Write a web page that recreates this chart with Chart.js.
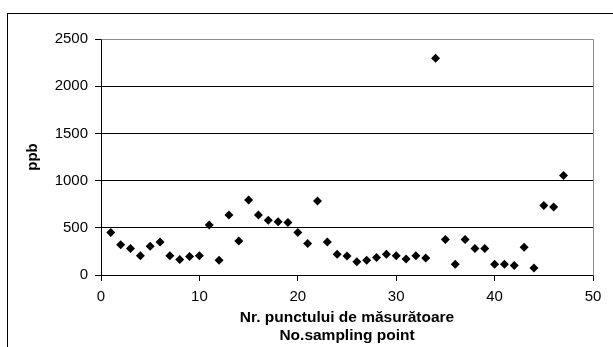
<!DOCTYPE html>
<html>
<head>
<meta charset="utf-8">
<script src="https://cdn.jsdelivr.net/npm/chart.js@4"></script>
<style>
  body { margin: 0; background: #fff; }
  #wrap { position: relative; width: 613px; height: 347px; overflow: hidden; }
  #frame { position: absolute; left: 7px; top: 13px; width: 700px; height: 400px;
           border-left: 1px solid #000; border-top: 1px solid #000; }
  #chart { position: absolute; left: 0; top: 0; }
</style>
</head>
<body>
<div id="wrap">
  <div id="frame"></div>
  <canvas id="chart" width="613" height="347"></canvas>
</div>
<script>
// sampling point number and measured value (ppb)
var pointNumbers = [1,2,3,4,5,6,7,8,9,10,11,12,13,14,15,16,17,18,19,20,21,22,23,24,
  25,26,27,28,29,30,31,32,33,34,35,36,37,38,39,40,41,42,43,44,45,46,47];
var ppbValues = [450,320,280,205,305,350,205,165,195,205,530,155,635,360,795,635,580,565,
  555,450,335,785,350,220,200,140,155,185,220,205,170,205,180,2295,375,115,375,280,280,
  115,115,100,295,75,735,720,1055];

var xTitle = ['Nr. punctului de măsurătoare', 'No.sampling point'];
var yTitle = 'ppb';

var fontFamily = "'Liberation Sans', Arial, sans-serif";

var points = [];
pointNumbers.forEach(function (n, i) {
    points.push({x: n, y: ppbValues[i]});
});

// gray top/right edge of the plot area
var plotEdge = {
    id: 'plotEdge',
    beforeDatasetsDraw: function (chart) {
        var a = chart.chartArea;
        var c = chart.ctx;
        c.save();
        c.strokeStyle = '#8c8c8c';
        c.lineWidth = 1;
        c.beginPath();
        c.moveTo(Math.round(a.left) + 0.5, Math.round(a.top) + 0.5);
        c.lineTo(Math.round(a.right) + 0.5, Math.round(a.top) + 0.5);
        c.lineTo(Math.round(a.right) + 0.5, Math.round(a.bottom) + 0.5);
        c.stroke();
        c.restore();
    }
};

function plainTick(value) {
    return String(value);
}

var ctx = document.getElementById('chart').getContext('2d');
var chart = new Chart(ctx, {
    type: 'scatter',
    data: {
        datasets: [{
            data: points,
            pointStyle: 'rectRot',
            pointRadius: 4.5,
            pointBackgroundColor: '#000',
            pointBorderColor: '#000',
            pointBorderWidth: 0
        }]
    },
    options: {
        responsive: false,
        animation: false,
        events: [],
        layout: { padding: { left: 0, top: 39, right: 20, bottom: 0 } },
        plugins: { legend: { display: false }, tooltip: { enabled: false } },
        scales: {
            x: {
                type: 'linear',
                min: 0, max: 50,
                afterFit: function (s) { s.height = 72; },
                ticks: { stepSize: 10, color: '#000', padding: 7, callback: plainTick,
                         font: { family: fontFamily, size: 15 } },
                grid: { drawOnChartArea: false, drawTicks: true, tickLength: 6, color: '#000' },
                border: { color: '#000', width: 1 },
                title: { display: true, text: xTitle, color: '#000',
                         font: { family: fontFamily, size: 15.5, weight: 'bold', lineHeight: 1.16 },
                         padding: { top: 0, bottom: 2 } }
            },
            y: {
                min: 0, max: 2500,
                afterFit: function (s) { s.width = 101; },
                ticks: { stepSize: 500, color: '#000', padding: 7, callback: plainTick,
                         font: { family: fontFamily, size: 15 } },
                grid: { color: '#000', tickLength: 6 },
                border: { color: '#000', width: 1 },
                title: { display: true, text: yTitle, color: '#000',
                         font: { family: fontFamily, size: 15, weight: 'bold', lineHeight: 1.2 },
                         padding: { top: 24, bottom: 0 } }
            }
        }
    },
    plugins: [plotEdge]
});
</script>
</body>
</html>
